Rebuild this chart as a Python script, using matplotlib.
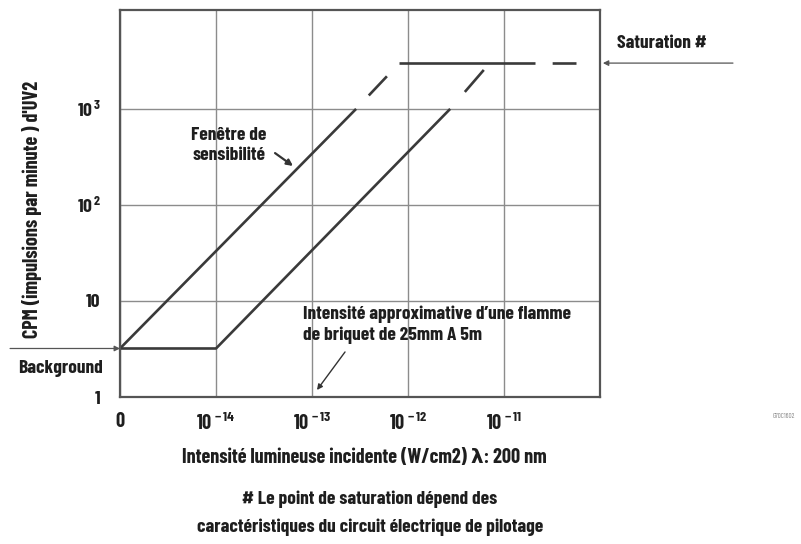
import matplotlib
matplotlib.use("Agg")
import matplotlib.pyplot as plt
from matplotlib.ticker import FixedLocator, FixedFormatter, NullLocator

FONT = ["Barlow Condensed", "DejaVu Sans"]
plt.rcParams['font.family'] = FONT
plt.rcParams['font.weight'] = 'bold'
plt.rcParams['axes.labelweight'] = 'bold'
plt.rcParams['mathtext.fontset'] = 'custom'
plt.rcParams['mathtext.rm'] = 'Barlow Condensed:bold'
plt.rcParams['mathtext.bf'] = 'Barlow Condensed:bold'
plt.rcParams['mathtext.it'] = 'Barlow Condensed:bold'

# ---- data ----
BACKGROUND = 3.2
SATURATION = 3000
upper_solid_x = [1e-15, 2.88e-13]
upper_solid_y = [BACKGROUND, 1000]
upper_dash_x = [2.88e-13, 8.13e-13]
upper_dash_y = [1000, SATURATION]
lower_solid_x = [1e-15, 1e-14, 2.75e-12]
lower_solid_y = [BACKGROUND, BACKGROUND, 1000]
lower_dash_x = [2.75e-12, 7.1e-12]
lower_dash_y = [1000, SATURATION]
sat_solid_x = [8.13e-13, 2.09e-11]
sat_dash_x = [2.09e-11, 5.6e-11]

x_ticks = [1e-15, 1e-14, 1e-13, 1e-12, 1e-11]
x_tick_labels = ["0", r"$10^{\,-14}$", r"$10^{\,-13}$", r"$10^{\,-12}$", r"$10^{\,-11}$"]
y_ticks = [1, 10, 100, 1000]
y_tick_labels = ["1", "10", r"$10^{\,2}$", r"$10^{\,3}$"]

LINE = '#3a3a3a'
TXT = '#1e1e1e'

fig = plt.figure(figsize=(8.01, 5.44), dpi=100)
ax = fig.add_axes([120/801, 1-397/544, 480/801, 387/544])
ax.set_xscale('log')
ax.set_yscale('log')
ax.set_xlim(1e-15, 1e-10)
ax.set_ylim(1, 10**4.03)

ax.xaxis.set_major_locator(FixedLocator(x_ticks))
ax.xaxis.set_major_formatter(FixedFormatter(x_tick_labels))
ax.xaxis.set_minor_locator(NullLocator())
ax.yaxis.set_major_locator(FixedLocator(y_ticks))
ax.yaxis.set_major_formatter(FixedFormatter(y_tick_labels))
ax.yaxis.set_minor_locator(NullLocator())
ax.tick_params(axis='x', length=0, pad=11, labelsize=14.5, labelcolor=TXT)
ax.tick_params(axis='y', length=0, pad=14, labelsize=14, labelcolor=TXT)
ax.grid(True, color='#8c8c8c', lw=1.0)
for s in ax.spines.values():
    s.set_color('#555555')
    s.set_linewidth(1.6)

lw = 1.9
ax.plot(upper_solid_x, upper_solid_y, color=LINE, lw=lw, solid_capstyle='butt')
ax.plot(upper_dash_x, upper_dash_y, color=LINE, lw=lw, dash_capstyle='butt',
        linestyle=(0, (0.001, 7.0, 10.0, 8.0, 100, 1)))
ax.plot(lower_solid_x, lower_solid_y, color=LINE, lw=lw, solid_capstyle='butt')
ax.plot(lower_dash_x, lower_dash_y, color=LINE, lw=lw, dash_capstyle='butt',
        linestyle=(0, (0.001, 8.5, 11.0, 7.0, 100, 1)))
ax.plot(sat_solid_x, [SATURATION]*2, color=LINE, lw=lw, solid_capstyle='butt')
ax.plot(sat_dash_x, [SATURATION]*2, color=LINE, lw=lw, dash_capstyle='butt',
        linestyle=(0, (0.001, 6.5, 9.4, 4.3, 9.4, 10)))

ax.set_xlabel("Intensité lumineuse incidente (W/cm2) λ: 200 nm", fontsize=14.5,
              color=TXT)
ax.xaxis.set_label_coords(0.51, -0.132)
ax.set_ylabel("CPM (impulsions par minute ) d'UV2", fontsize=14.5, color=TXT)
ax.yaxis.set_label_coords(-0.163, 0.485)

arrow = dict(arrowstyle='-|>', color='#555555', lw=0.9, mutation_scale=8,
             shrinkA=0, shrinkB=0)
# Background arrow
ax.annotate("", xy=(0.0, BACKGROUND), xycoords=('axes fraction', 'data'),
            xytext=(-0.229, BACKGROUND), textcoords=('axes fraction', 'data'),
            arrowprops=arrow, annotation_clip=False)
ax.text(-0.123, 2.0, "Background", transform=ax.get_yaxis_transform(),
        ha='center', va='center', fontsize=14, color=TXT)
# Saturation arrow
ax.annotate("", xy=(1.006, SATURATION), xycoords=('axes fraction', 'data'),
            xytext=(1.277, SATURATION), textcoords=('axes fraction', 'data'),
            arrowprops=arrow, annotation_clip=False)
ax.text(1.035, 10**3.68, "Saturation #", transform=ax.get_yaxis_transform(),
        ha='left', va='center', fontsize=14, color=TXT)

# Fenêtre de sensibilité
ax.annotate("", xy=(10**-13.198, 10**2.406), xytext=(10**-13.385, 10**2.54),
            arrowprops=dict(arrowstyle='-|>', color='#333333', lw=1.6,
                            mutation_scale=9, shrinkA=0, shrinkB=0))
ax.text(10**-13.865, 10**2.62, "Fenêtre de\nsensibilité", ha='center',
        va='center', fontsize=14, color=TXT, linespacing=1.2)

# Intensité approximative
ax.annotate("", xy=(10**-12.948, 10**0.073), xytext=(10**-12.656, 10**0.469),
            arrowprops=dict(arrowstyle='-|>', color='#333333', lw=1.0,
                            mutation_scale=8, shrinkA=0, shrinkB=0))
ax.text(10**-13.094, 10**0.75,
        "Intensité approximative d’une flamme\nde briquet de 25mm A 5m",
        ha='left', va='center', fontsize=14, color=TXT, linespacing=1.25)

fig.text(370/801, 1-513/544,
         "# Le point de saturation dépend des\ncaractéristiques du circuit électrique de pilotage",
         ha='center', va='center', fontsize=14, color=TXT, linespacing=1.8)
fig.text(784/801, 1-417/544, "G70C1602", ha='center', va='center', fontsize=5,
         color='#888888', fontweight='normal')

fig.savefig("out.png", dpi=100)
